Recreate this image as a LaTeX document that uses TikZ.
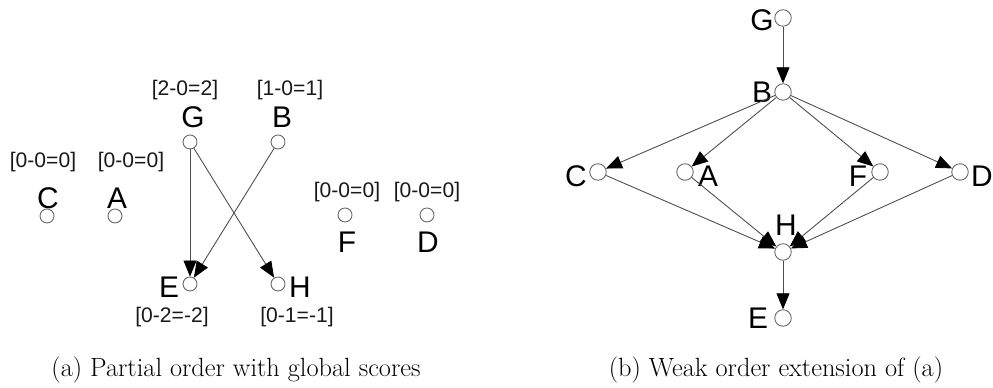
\documentclass[tikz,border=0pt]{standalone}
\usepackage{fontspec}
\newfontfamily\nodefont{Liberation Sans}
\usetikzlibrary{arrows.meta}

\begin{document}
\begin{tikzpicture}[x=0.2mm,y=-0.2mm,
  vertex/.style={circle,draw=black!60,line width=0.5pt,minimum size=2.8mm,inner sep=0pt},
  bigvertex/.style={vertex,minimum size=3.3mm},
  letter/.style={font=\nodefont\fontsize{17}{17}\selectfont,inner sep=0pt,text=black},
  score/.style={font=\nodefont\fontsize{12}{12}\selectfont,inner sep=0pt,text=black!90},
  edge/.style={draw=black!70,line width=0.5pt,-{Triangle[length=3.2mm,width=2.6mm,color=black]}},
  caption/.style={font=\fontsize{15}{18}\selectfont,inner sep=0pt}]

\useasboundingbox (0,0) rectangle (993,388);

% Partial order: vertices
\node[vertex] (C) at (47,216) {};
\node[vertex] (A) at (115,216) {};
\node[vertex] (G) at (190,142) {};
\node[vertex] (B) at (278,142) {};
\node[vertex] (F) at (345,215) {};
\node[vertex] (D) at (427,215) {};
\node[vertex] (E) at (190,284) {};
\node[vertex] (H) at (278,284) {};

% Partial order: names
\node[letter] (lC) at (48,198) {C};
\node[letter] (lA) at (117,198) {A};
\node[letter] (lG) at (193,117) {G};
\node[letter] (lB) at (282,117) {B};
\node[letter] (lF) at (347,242) {F};
\node[letter] (lD) at (428,242) {D};
\node[letter] (lE) at (169,287) {E};
\node[letter] (lH) at (300,287) {H};

% Partial order: global scores
\node[score] (sC) at (43,162) {[0-0=0]};
\node[score] (sA) at (131,162) {[0-0=0]};
\node[score] (sG) at (185,90) {[2-0=2]};
\node[score] (sB) at (290,90) {[1-0=1]};
\node[score] (sF) at (347,192) {[0-0=0]};
\node[score] (sD) at (427,192) {[0-0=0]};
\node[score] (sE) at (172,317) {[0-2=-2]};
\node[score] (sH) at (297,317) {[0-1=-1]};

% Partial order: arrows
\draw[edge] (G) -- (E);
\draw[edge] (G) -- (H);
\draw[edge] (B) -- (E);

% Weak order: vertices
\node[bigvertex] (G2) at (783,18) {};
\node[bigvertex] (B2) at (783,92) {};
\node[bigvertex] (C2) at (598,172) {};
\node[bigvertex] (A2) at (685,172) {};
\node[bigvertex] (F2) at (880,172) {};
\node[bigvertex] (D2) at (960,172) {};
\node[bigvertex] (H2) at (783,252) {};
\node[bigvertex] (E2) at (783,318) {};

% Weak order: names
\node[letter] (lG2) at (762,20) {G};
\node[letter] (lB2) at (762,92) {B};
\node[letter] (lC2) at (576,176) {C};
\node[letter] (lA2) at (708,176) {A};
\node[letter] (lF2) at (858,176) {F};
\node[letter] (lD2) at (982,176) {D};
\node[letter] (lH2) at (786,225) {H};
\node[letter] (lE2) at (758,318) {E};

% Weak order: arrows
\draw[edge] (G2) -- (B2);
\foreach \n in {C2,A2,F2,D2} {
  \draw[edge] (B2) -- (\n);
  \draw[edge] (\n) -- (H2);
}
\draw[edge] (H2) -- (E2);

% Captions
\node[caption] (capa) at (236,370) {(a) Partial order with global scores};
\node[caption] (capb) at (776,370) {(b) Weak order extension of (a)};

\end{tikzpicture}
\end{document}
